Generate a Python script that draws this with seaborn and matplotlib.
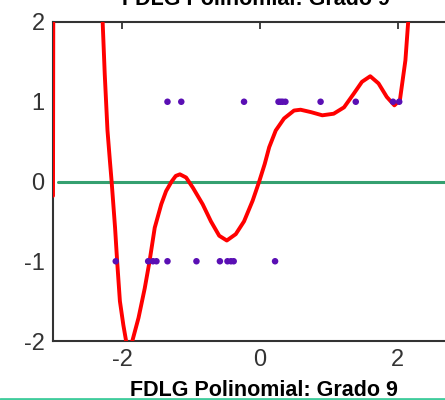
import numpy as np
import pandas as pd
import matplotlib
matplotlib.use("Agg")
import matplotlib.pyplot as plt
import seaborn as sns
from matplotlib.lines import Line2D

# Data points (two classes at y = +1 and y = -1)
x_pos = [-1.34, -1.14, -0.23, 0.27, 0.30, 0.33, 0.37, 0.88, 1.39, 1.93, 2.02]
y_pos = [1] * len(x_pos)
x_neg = [-2.09, -1.62, -1.55, -1.50, -1.34, -0.92, -0.58, -0.47, -0.42, -0.38, 0.22]
y_neg = [-1] * len(x_neg)

# Fitted degree-9 polynomial (traced)
x_curve = [-3.0, -2.995, -2.32, -2.28, -2.25, -2.21, -2.175, -2.15, -2.10, -2.07,
           -2.03, -1.98, -1.94, -1.90, -1.85, -1.76, -1.67, -1.60, -1.525, -1.43,
           -1.36, -1.28, -1.22, -1.16, -1.07, -0.97, -0.83, -0.71, -0.59, -0.48,
           -0.35, -0.23, -0.105, -0.01, 0.07, 0.135, 0.23, 0.35, 0.495, 0.59,
           0.74, 0.905, 1.07, 1.22, 1.36, 1.48, 1.60, 1.72, 1.84, 1.95,
           2.03, 2.07, 2.11, 2.15, 2.20]
y_curve = [-0.18, 2.6, 2.6, 2.0, 1.35, 0.64, 0.26, 0.0, -0.58, -1.0,
           -1.5, -1.8, -2.0, -2.08, -2.0, -1.71, -1.34, -1.0, -0.58, -0.285,
           -0.12, 0.0, 0.07, 0.09, 0.05, -0.08, -0.285, -0.5, -0.68, -0.74,
           -0.66, -0.5, -0.24, 0.0, 0.22, 0.43, 0.64, 0.79, 0.89, 0.90,
           0.87, 0.83, 0.85, 0.93, 1.10, 1.25, 1.32, 1.23, 1.06, 0.955,
           1.02, 1.27, 1.52, 2.0, 2.6]

xticks = [-2, 0, 2]
yticks = [-2, -1, 0, 1, 2]
title = "FDLG Polinomial: Grado 9"

sns.set_style("white")
plt.rcParams['font.family'] = ['Liberation Sans', 'DejaVu Sans']

fig = plt.figure(figsize=(4.45, 4.0), dpi=100)
ax = fig.add_axes([53/445, 1 - 341/400, 1 - 53/445, (341 - 22)/400])
ax.set_xlim(-3.0, 2.684)
ax.set_ylim(-2, 2)

# zero line
ax.axhline(0, xmin=0.012, color="#35a070", lw=2.2, zorder=2)

curve = pd.DataFrame({"x": x_curve, "y": y_curve})
sns.lineplot(data=curve, x="x", y="y", sort=False, estimator=None, color="#ff0000",
             lw=2.8, ax=ax, zorder=3, clip_on=True)

pts = pd.DataFrame({"x": x_pos + x_neg, "y": y_pos + y_neg})
sns.scatterplot(data=pts, x="x", y="y", color="#5a0fb4", s=22, edgecolor="none",
                ax=ax, zorder=4)

ax.set_xlabel("")
ax.set_ylabel("")
ax.set_xticks(xticks)
ax.set_yticks(yticks)
ax.set_xticklabels([str(t) for t in xticks])
ax.set_yticklabels([str(t) for t in yticks])
ax.tick_params(axis="both", direction="in", length=5, width=1.3, colors="#333333",
               labelsize=17, labelcolor="#333333", top=True, right=False, pad=6)
for side in ["left", "bottom", "top"]:
    ax.spines[side].set_visible(True)
    ax.spines[side].set_color("#333333")
    ax.spines[side].set_linewidth(1.5)
ax.spines["right"].set_visible(False)

# titles (one cut off at top, one at bottom)
fig.text(256/445, 1 - 5/400, title, ha="center", va="baseline",
         fontsize=15.5, fontweight="bold", color="black")
fig.text(264/445, 1 - 396/400, title, ha="center", va="baseline",
         fontsize=15.5, fontweight="bold", color="black")
fig.add_artist(Line2D([0, 1], [1 - 398.5/400, 1 - 398.5/400], color="#40cc9c", lw=2,
                      transform=fig.transFigure))

fig.savefig("out.png", dpi=100)
